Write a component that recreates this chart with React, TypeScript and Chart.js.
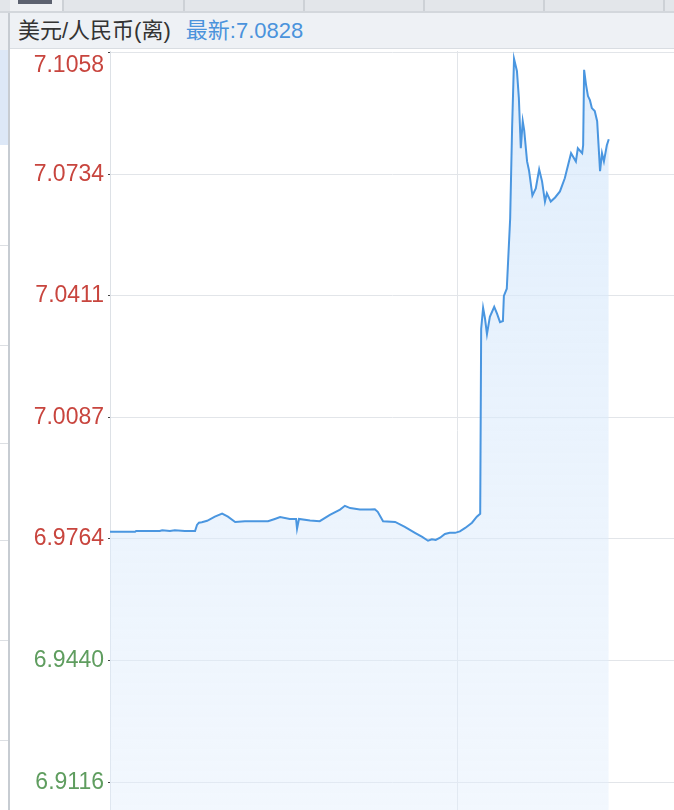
import React, { useEffect, useRef } from "react";
import { Chart, registerables } from "chart.js";

Chart.register(...registerables);

// minutes since session open
const times = [
  0, 52, 54, 103, 108, 124, 134, 155, 176, 180, 184, 190, 201, 217, 232, 244, 259, 279, 327, 341,
  352, 372, 385, 387, 391, 414, 434, 455, 476, 486, 497, 517, 538, 548, 554, 565, 590, 610, 631, 646,
  658, 666, 674, 683, 693, 703, 714, 724, 735, 749, 759, 766, 768, 772, 776, 780, 786, 795, 801, 807,
  813, 815, 821, 828, 832, 836, 842, 846, 850, 854, 857, 863, 867, 874, 881, 888, 894, 900, 904, 912,
  921, 931, 941, 954, 964, 968, 977, 979, 981, 985, 989, 993, 997, 1003, 1008, 1014, 1018, 1022, 1028, 1032,
];

const rates = [
  6.9783, 6.9783, 6.9785, 6.9785, 6.9787, 6.9785, 6.9787, 6.9785, 6.9785, 6.9801, 6.9807, 6.9808, 6.9812, 6.9823, 6.9831, 6.9823, 6.9809, 6.9811, 6.9811, 6.9817,
  6.9822, 6.9817, 6.9817, 6.9791, 6.9817, 6.9813, 6.9811, 6.9828, 6.9842, 6.9852, 6.9846, 6.9842, 6.9842, 6.9843, 6.9836, 6.9811, 6.9809, 6.9796, 6.978, 6.9769,
  6.9759, 6.9763, 6.9761, 6.9767, 6.9777, 6.978, 6.978, 6.9784, 6.9793, 6.9807, 6.9823, 6.9831, 7.0323, 7.0379, 7.035, 7.0309, 7.0355, 7.0382, 7.0363, 7.0341,
  7.0344, 7.0411, 7.043, 7.0617, 7.0858, 7.1042, 7.101, 7.0938, 7.0804, 7.0876, 7.0852, 7.0769, 7.0745, 7.0678, 7.0697, 7.0748, 7.0716, 7.0662, 7.0684, 7.0662,
  7.0673, 7.0689, 7.0724, 7.0791, 7.0769, 7.0804, 7.0791, 7.0812, 7.1013, 7.0973, 7.0943, 7.0932, 7.0911, 7.0903, 7.0876, 7.0743, 7.0791, 7.0769, 7.0812, 7.0828,
];

const tickValues = [7.1058, 7.0734, 7.0411, 7.0087, 6.9764, 6.944, 6.9116];
const tickLabels = ["7.1058", "7.0734", "7.0411", "7.0087", "6.9764", "6.9440", "6.9116"];
const prevClose = 6.9764;
const latest = "7.0828";
const title = "美元/人民币(离)";

const tabDividers = [62, 183, 303, 423, 543, 663];
const sideLines = [245, 345, 443, 540, 640, 740];

export default function App() {
  const ref = useRef<HTMLCanvasElement | null>(null);

  useEffect(() => {
    if (!ref.current) return;
    const data = times.map((t, i) => ({ x: t, y: rates[i] }));
    const chart = new Chart(ref.current, {
      type: "line",
      data: {
        datasets: [
          {
            data,
            borderColor: "#4a96e0",
            borderWidth: 2,
            pointRadius: 0,
            tension: 0,
            fill: "start",
            backgroundColor: (ctx: any) => {
              const area = ctx.chart.chartArea;
              if (!area) return "rgba(220,235,250,0.6)";
              const g = ctx.chart.ctx.createLinearGradient(0, area.top, 0, area.bottom);
              g.addColorStop(0, "rgba(212,231,251,0.72)");
              g.addColorStop(1, "rgba(226,238,252,0.45)");
              return g;
            },
          },
        ],
      },
      options: {
        animation: false,
        responsive: false,
        maintainAspectRatio: false,
        layout: { padding: 0 },
        plugins: { legend: { display: false }, tooltip: { enabled: false } },
        scales: {
          x: {
            type: "linear",
            min: 0,
            max: 1167,
            afterBuildTicks: (scale: any) => {
              scale.ticks = [{ value: 720 }];
            },
            afterFit: (scale: any) => {
              scale.height = 0;
            },
            ticks: { display: false },
            grid: { color: "#e2e5e9", drawTicks: false, lineWidth: 1 },
            border: { display: false },
          },
          y: {
            type: "linear",
            min: 6.9042,
            max: 7.1063,
            afterBuildTicks: (scale: any) => {
              scale.ticks = tickValues.map((v) => ({ value: v }));
            },
            afterFit: (scale: any) => {
              scale.width = 100;
              scale.paddingTop = 0;
              scale.paddingBottom = 0;
            },
            ticks: {
              padding: 4,
              font: { family: "'Liberation Sans', Arial, sans-serif", size: 23, lineHeight: 1.1 },
              color: (ctx: any) => (tickValues[ctx.index] >= prevClose ? "#c8453e" : "#5f9d5f"),
              callback: (_v: any, i: number) => (i === 0 ? ["", tickLabels[i]] : tickLabels[i]),
            },
            grid: { color: "#e2e5e9", lineWidth: 1, tickLength: 2, tickColor: "#444" },
            border: { display: true, color: "#dde1e6", width: 1 },
          },
        },
      },
    });
    return () => chart.destroy();
  }, []);

  return (
    <div style={{ position: "fixed", left: 0, top: 0, width: 674, height: 810, overflow: "hidden", background: "#fff", fontFamily: "'Liberation Sans', Arial, 'Noto Sans CJK SC', sans-serif" }}>
      {/* tab strip */}
      <div style={{ position: "absolute", left: 0, top: 0, width: 674, height: 11, background: "#e3e6ea", borderBottom: "2px solid #d3d7dc" }} />
      <div style={{ position: "absolute", left: 10, top: 0, width: 52, height: 11, background: "#eef0f3" }} />
      <div style={{ position: "absolute", left: 18, top: 0, width: 34, height: 4, background: "#5d6270" }} />
      {tabDividers.map((x) => (
        <div key={x} style={{ position: "absolute", left: x, top: 0, width: 2, height: 11, background: "#cdd1d6" }} />
      ))}
      {/* left strip */}
      <div style={{ position: "absolute", left: 0, top: 13, width: 8, height: 37, background: "#eceff3" }} />
      <div style={{ position: "absolute", left: 0, top: 50, width: 8, height: 95, background: "#dde8f7" }} />
      {sideLines.map((y) => (
        <div key={y} style={{ position: "absolute", left: 0, top: y, width: 8, height: 1, background: "#dcdfe3" }} />
      ))}
      <div style={{ position: "absolute", left: 8, top: 13, width: 2, height: 797, background: "#c7ccd2" }} />
      {/* header */}
      <div style={{ position: "absolute", left: 10, top: 13, width: 664, height: 36, background: "#eef1f5", borderBottom: "1px solid #d9dde2", lineHeight: "36px", fontSize: 22, paddingLeft: 8, boxSizing: "border-box", whiteSpace: "nowrap" }}>
        <span style={{ color: "#333" }}>{title}</span>
        <span style={{ color: "#4a93dc", marginLeft: 15 }}>最新:{latest}</span>
      </div>
      <canvas ref={ref} width={664} height={759} style={{ position: "absolute", left: 10, top: 51, width: 664, height: 759 }} />
    </div>
  );
}
